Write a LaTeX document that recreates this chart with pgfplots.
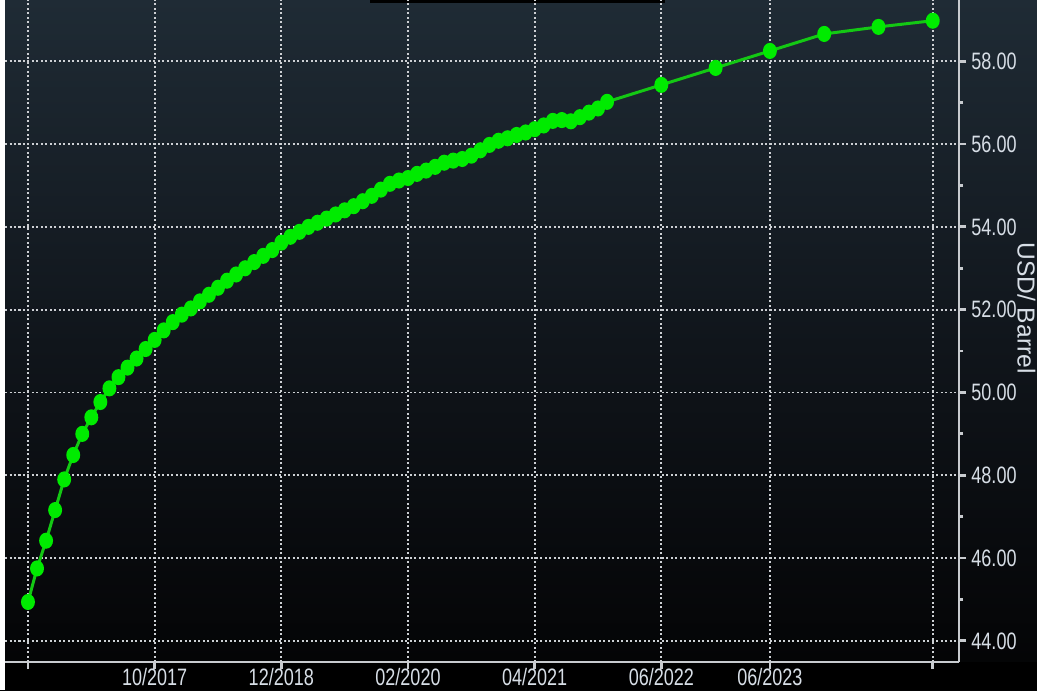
\documentclass[border=0pt]{standalone}
\usepackage{pgfplots}
\pgfplotsset{compat=1.18}
\usepackage{pgfplotstable}
\usepackage{fontspec}
\setmainfont{Liberation Sans}[FakeStretch=0.76]
\newfontfamily\labfont{Liberation Sans}
\definecolor{bgtop}{RGB}{31,43,53}
\definecolor{bgmid}{RGB}{16,21,27}
\definecolor{bgbot}{RGB}{3,3,4}
\definecolor{lgreen}{RGB}{0,235,0}
\definecolor{dgreen}{RGB}{20,200,20}
\definecolor{tlab}{RGB}{215,222,230}
\definecolor{gridc}{RGB}{205,208,212}
\definecolor{axc}{RGB}{200,203,207}

\pgfplotstableread{
m v
0 44.94
1 45.75
2 46.42
3 47.16
4 47.90
5 48.49
6 49.00
7 49.40
8 49.77
9 50.10
10 50.37
11 50.60
12 50.82
13 51.05
14 51.27
15 51.50
16 51.70
17 51.88
18 52.03
19 52.20
20 52.36
21 52.53
22 52.70
23 52.85
24 53.00
25 53.15
26 53.30
27 53.44
28 53.62
29 53.76
30 53.88
31 54.00
32 54.10
33 54.20
34 54.30
35 54.40
36 54.50
37 54.62
38 54.75
39 54.90
40 55.04
41 55.12
42 55.18
43 55.28
44 55.36
45 55.45
46 55.55
47 55.60
48 55.64
49 55.72
50 55.85
51 55.98
52 56.08
53 56.14
54 56.22
55 56.28
56 56.36
57 56.45
58 56.56
59 56.58
60 56.55
61 56.65
62 56.76
63 56.86
64 57.02
70 57.43
76 57.84
82 58.25
88 58.66
94 58.83
100 58.98
}\curve

\begin{document}
\begin{tikzpicture}
\useasboundingbox (0,0) rectangle (10.37,6.90);
\clip (0,0) rectangle (10.37,6.90);
\shade[top color=bgtop, bottom color=bgbot, middle color=bgmid] (0,0) rectangle (10.37,6.90);
\fill[black] (0,0) rectangle (10.37,0.28);
\fill[white] (0,0) rectangle (0.05,6.90);
\fill[black] (3.70,6.87) rectangle (6.65,6.90);
\begin{axis}[
  at={(0.05cm,0.28cm)}, anchor=south west,
  width=9.54cm, height=6.62cm, scale only axis,
  xmin=-2.54, xmax=102.9, ymin=43.49, ymax=59.48,
  axis x line*=bottom, axis y line*=right,
  axis line style={draw=axc, line width=0.6pt},
  xtick={0,14,28,42,56,70,82,100},
  xticklabels={,10/2017,12/2018,02/2020,04/2021,06/2022,06/2023,},
  ytick={44,46,48,50,52,54,56,58},
  yticklabels={44.00,46.00,48.00,50.00,52.00,54.00,56.00,58.00},
  minor ytick={45,47,49,51,53,55,57},
  grid=major,
  major grid style={draw=gridc, line width=0.55pt, dash pattern=on 0.57pt off 0.71pt},
  tick align=outside,
  major tick length=0.07cm, minor tick length=0.04cm,
  every tick/.style={draw=axc, line width=0.8pt},
  ticklabel style={font=\fontsize{6.75}{8}\selectfont, text=tlab},
  xticklabel style={yshift=0.13cm},
  yticklabel style={xshift=-0.07cm},
]
\addplot[dgreen, line width=0.85pt, mark=*, mark size=1.55pt,
  mark options={fill=lgreen, draw=lgreen, yscale=1.2}] table[x=m,y=v]{\curve};
\end{axis}
\node[rotate=-90, anchor=base, font=\labfont\fontsize{7}{8}\selectfont, text=tlab, inner sep=0pt] at (10.175,3.82) {USD/ Barrel};
\end{tikzpicture}
\end{document}
